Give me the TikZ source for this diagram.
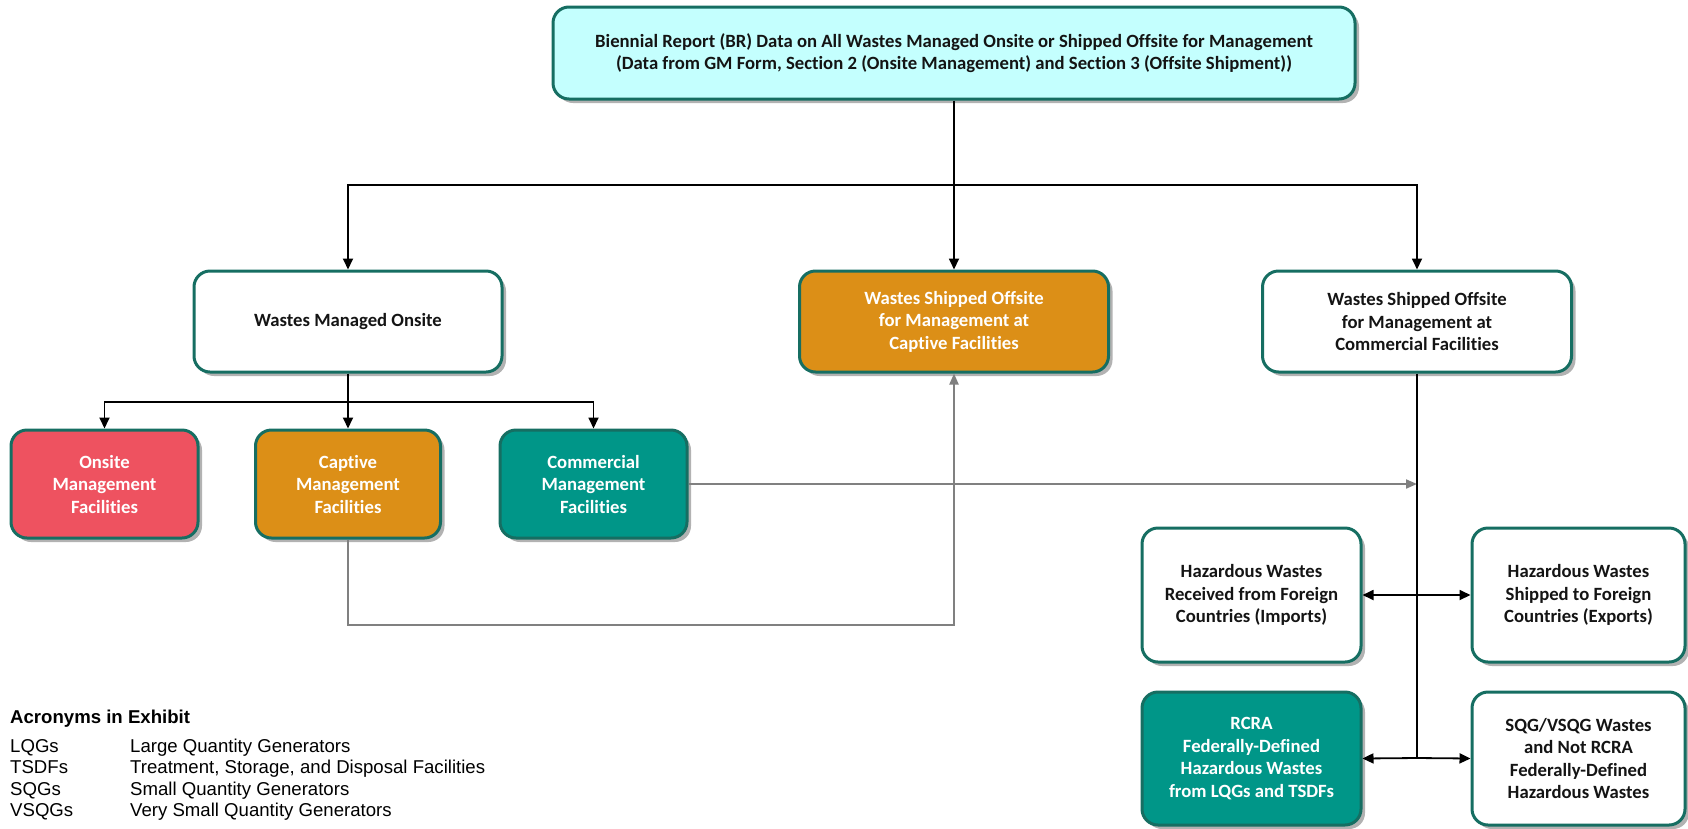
\documentclass[tikz,border=0pt]{standalone}
\usepackage{fontspec}
\setmainfont{Carlito}[Ligatures=NoCommon]
\newfontfamily\legendfont{Liberation Sans}
\usetikzlibrary{arrows.meta,shadows}
\definecolor{bordc}{RGB}{22,110,98}
\definecolor{cyanf}{RGB}{196,255,254}
\definecolor{redf}{RGB}{238,82,96}
\definecolor{orangef}{RGB}{220,143,23}
\definecolor{tealf}{RGB}{0,150,136}
\definecolor{grayl}{RGB}{128,128,128}
\definecolor{txtc}{RGB}{20,20,20}
\begin{document}
\begin{tikzpicture}[x=1pt,y=-1pt,
  box/.style={draw=bordc, line width=3pt, rounded corners=16pt, align=center,
    font=\fontsize{18.7}{22.5}\selectfont\bfseries, inner sep=0pt, text=txtc, fill=white,
    drop shadow={shadow xshift=4pt, shadow yshift=-4pt, fill=black, opacity=0.3}},
  wbox/.style={box, text=white},
  blk/.style={draw=black, line width=1.8pt},
  blkarr/.style={blk, -{Triangle[length=11pt,width=10pt]}},
  gry/.style={draw=grayl, line width=2pt},
  gryarr/.style={gry, -{Triangle[length=11pt,width=9pt]}},
  legtitle/.style={font=\legendfont\fontsize{18.6}{22}\selectfont\bfseries, anchor=base west, inner sep=0pt},
  legtext/.style={font=\legendfont\fontsize{18.6}{22}\selectfont, anchor=base west, inner sep=0pt}
]
\useasboundingbox (0,0) rectangle (1688,828);

% boxes
\node[box, fill=cyanf, minimum width=802pt, minimum height=92pt] (top) at (954,53)
  {Biennial Report (BR) Data on All Wastes Managed Onsite or Shipped Offsite for Management\\
   (Data from GM Form, Section 2 (Onsite Management) and Section 3 (Offsite Shipment))};
\node[box, minimum width=308pt, minimum height=101pt] (onsite) at (348,321.5) {Wastes Managed Onsite};
\node[wbox, fill=orangef, minimum width=309pt, minimum height=101pt] (capoff) at (954,321.5)
  {Wastes Shipped Offsite\\for Management at\\Captive Facilities};
\node[box, minimum width=309pt, minimum height=101pt] (commoff) at (1417,321.5)
  {Wastes Shipped Offsite\\for Management at\\Commercial Facilities};
\node[wbox, fill=redf, minimum width=187pt, minimum height=108pt] (onsmgmt) at (104.5,484)
  {Onsite\\Management\\Facilities};
\node[wbox, fill=orangef, minimum width=185pt, minimum height=108pt] (capmgmt) at (348,484)
  {Captive\\Management\\Facilities};
\node[wbox, fill=tealf, minimum width=187pt, minimum height=108pt] (commgmt) at (593.5,484)
  {Commercial\\Management\\Facilities};
\node[box, minimum width=219pt, minimum height=134pt] (imports) at (1251.5,595)
  {Hazardous Wastes\\Received from Foreign\\Countries (Imports)};
\node[box, minimum width=213pt, minimum height=134pt] (exports) at (1578.5,595)
  {Hazardous Wastes\\Shipped to Foreign\\Countries (Exports)};
\node[wbox, fill=tealf, minimum width=219pt, minimum height=133pt] (rcra) at (1251.5,758.5)
  {RCRA\\Federally-Defined\\Hazardous Wastes\\from LQGs and TSDFs};
\node[box, minimum width=213pt, minimum height=133pt] (sqg) at (1578.5,758.5)
  {SQG/VSQG Wastes\\and Not RCRA\\Federally-Defined\\Hazardous Wastes};

% connectors
\coordinate (j1) at (954,185);
\draw[blk] (top.south) -- (j1);
\draw[blkarr] (j1) -| (onsite.north);
\draw[blkarr] (j1) -- (capoff.north);
\draw[blkarr] (j1) -| (commoff.north);

\coordinate (j2) at (348,402);
\draw[blk] (onsite.south) -- (j2);
\draw[blkarr] (j2) -| (onsmgmt.north);
\draw[blkarr] (j2) -- (capmgmt.north);
\draw[blkarr] (j2) -| (commgmt.north);

\coordinate (g1) at (1417,484);
\coordinate (g2) at (348,625);
\draw[gryarr] (capmgmt.south) -- (g2) -| (capoff.south);
\draw[gryarr] (commgmt.east) -- (g1);

\coordinate (v1) at (1417,595);
\coordinate (v2) at (1417,758);
\draw[blk] (commoff.south) -- (v2);
\draw[blkarr] (v1) -- (imports.east);
\draw[blkarr] (v1) -- (exports.west);
\draw[blkarr] (v2) -- (rcra.east);
\draw[blkarr] (v2) -- (sqg.west);

% legend
\node[legtitle] (lt) at (10,723) {Acronyms in Exhibit};
\node[legtext] (a1) at (10,752) {LQGs};
\node[legtext] (b1) at (130,752) {Large Quantity Generators};
\node[legtext] (a2) at (10,773) {TSDFs};
\node[legtext] (b2) at (130,773) {Treatment, Storage, and Disposal Facilities};
\node[legtext] (a3) at (10,795) {SQGs};
\node[legtext] (b3) at (130,795) {Small Quantity Generators};
\node[legtext] (a4) at (10,816) {VSQGs};
\node[legtext] (b4) at (130,816) {Very Small Quantity Generators};
\end{tikzpicture}
\end{document}
